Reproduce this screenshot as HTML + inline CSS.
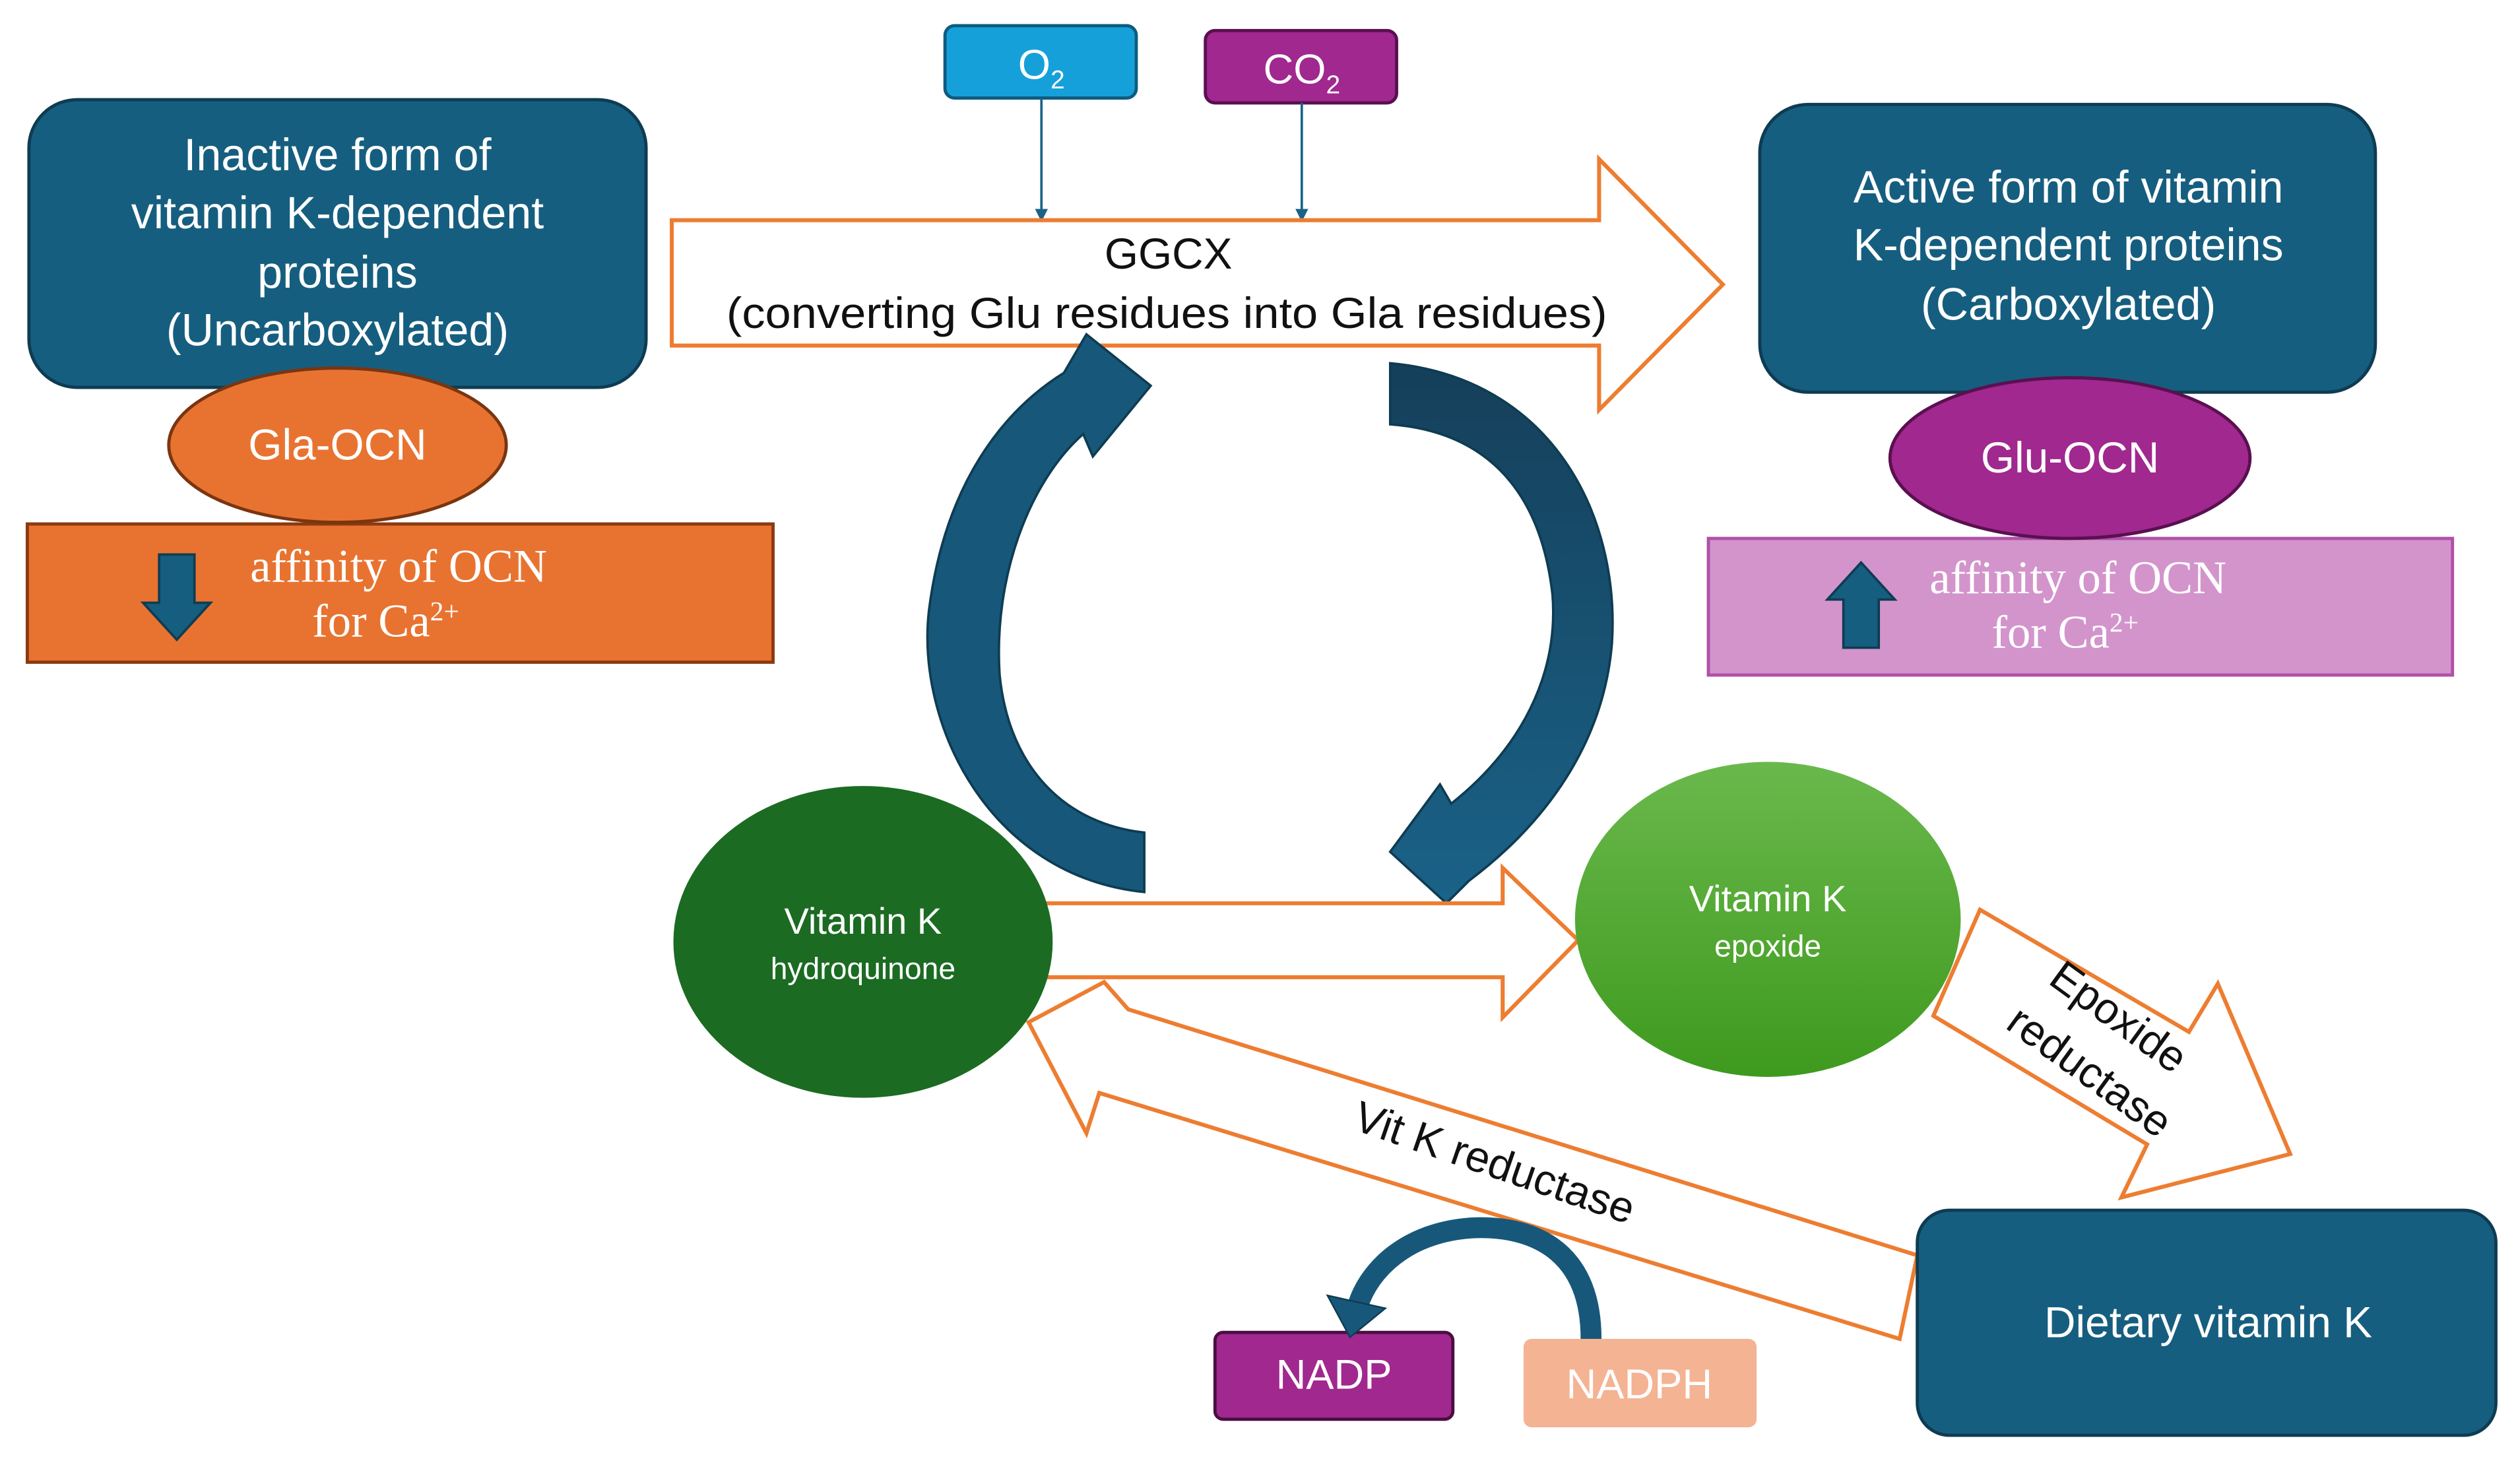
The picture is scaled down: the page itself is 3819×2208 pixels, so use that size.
<!DOCTYPE html>
<html><head><meta charset="utf-8"><style>
html,body{margin:0;padding:0;background:#fff;}
svg{display:block;}
.sans{font-family:"Liberation Sans",Arial,sans-serif;}
.w{fill:#fff;}
.s{font-family:"Liberation Serif","Times New Roman",serif;}
</style></head><body>
<svg width="3819" height="2208" viewBox="0 0 1568 906.5" preserveAspectRatio="none" xmlns="http://www.w3.org/2000/svg" font-family="Liberation Sans, Arial, sans-serif">
<defs>
<linearGradient id="ep" x1="0" y1="0" x2="0" y2="1"><stop offset="0" stop-color="#6ab84c"/><stop offset="1" stop-color="#3e9a1e"/></linearGradient>
<linearGradient id="rg" x1="0" y1="0" x2="0" y2="1"><stop offset="0" stop-color="#153f5a"/><stop offset="1" stop-color="#1a6288"/></linearGradient>
</defs>
<rect width="1568" height="906.5" fill="#fff"/>

<!-- Inactive box -->
<rect x="18" y="62" width="384" height="179" rx="30" fill="#165e7f" stroke="#0e3c52" stroke-width="2"/>
<g class="w" font-size="28" text-anchor="middle">
<text x="210" y="106">Inactive form of</text>
<text x="210" y="142">vitamin K-dependent</text>
<text x="210" y="179">proteins</text>
<text x="210" y="215">(Uncarboxylated)</text>
</g>
<!-- orange rect -->
<rect x="17" y="326" width="464" height="86" fill="#e87331" stroke="#8a3a10" stroke-width="2"/>
<ellipse cx="210" cy="277" rx="105" ry="48" fill="#e87331" stroke="#7a3510" stroke-width="2"/>
<text x="210" y="286" class="w" font-size="27" text-anchor="middle">Gla-OCN</text>
<polygon points="99,345 121,345 121,375 131,375 110,398 89,375 99,375" fill="#165e7f" stroke="#0e3c52" stroke-width="1.5"/>
<text x="248" y="362" fill="#fff" font-family="Liberation Serif, Times New Roman, serif" font-size="29" text-anchor="middle">affinity of OCN</text>
<text x="240" y="396" fill="#fff" font-family="Liberation Serif, Times New Roman, serif" font-size="29" text-anchor="middle">for Ca<tspan font-size="17" dy="-10">2+</tspan></text>

<!-- O2 / CO2 -->
<rect x="588" y="16" width="119" height="45" rx="6" fill="#16a0da" stroke="#0d5c80" stroke-width="2"/>
<text x="648" y="49" class="w" font-size="26" text-anchor="middle">O<tspan font-size="16" dy="6">2</tspan></text>
<rect x="750" y="19" width="119" height="45" rx="6" fill="#a0288f" stroke="#5a1050" stroke-width="2"/>
<text x="810" y="52" class="w" font-size="26" text-anchor="middle">CO<tspan font-size="16" dy="6">2</tspan></text>
<line x1="648" y1="61" x2="648" y2="133" stroke="#1a6288" stroke-width="1.5"/>
<polygon points="644,130 652,130 648,138" fill="#1a6288"/>
<line x1="810" y1="64" x2="810" y2="133" stroke="#1a6288" stroke-width="1.5"/>
<polygon points="806,130 814,130 810,138" fill="#1a6288"/>

<!-- GGCX arrow -->
<polygon points="418,137 995,137 995,99 1072,177 995,255 995,215 418,215" fill="#fff" stroke="#ed7d31" stroke-width="2.5"/>
<g font-size="27" text-anchor="middle" fill="#111">
<text x="727" y="167">GGCX</text>
<text x="452" y="204" text-anchor="start" textLength="548" lengthAdjust="spacingAndGlyphs">(converting Glu residues into Gla residues)</text>
</g>

<!-- Active box -->
<rect x="1095" y="65" width="383" height="179" rx="30" fill="#165e7f" stroke="#0e3c52" stroke-width="2"/>
<g class="w" font-size="28" text-anchor="middle">
<text x="1287" y="126">Active form of vitamin</text>
<text x="1287" y="162">K-dependent proteins</text>
<text x="1287" y="199">(Carboxylated)</text>
</g>
<rect x="1063" y="335" width="463" height="85" fill="#d394cc" stroke="#b050a8" stroke-width="2"/>
<ellipse cx="1288" cy="285" rx="112" ry="50" fill="#a0288f" stroke="#5a1050" stroke-width="2"/>
<text x="1288" y="294" class="w" font-size="27" text-anchor="middle">Glu-OCN</text>
<polygon points="1147,403 1169,403 1169,373 1179,373 1158,350 1137,373 1147,373" fill="#165e7f" stroke="#0e3c52" stroke-width="1.5"/>
<text x="1293" y="369" fill="#fff" font-family="Liberation Serif, Times New Roman, serif" font-size="29" text-anchor="middle">affinity of OCN</text>
<text x="1285" y="403" fill="#fff" font-family="Liberation Serif, Times New Roman, serif" font-size="29" text-anchor="middle">for Ca<tspan font-size="17" dy="-10">2+</tspan></text>

<!-- cycle arrows -->
<path d="M712,555 C615,545 570,450 578,380 C588,300 625,255 662,232 L676,208 L716,240 L680,284 L674,270 C640,300 618,360 622,420 C628,480 665,513 712,518 Z" fill="#17587a" stroke="#0e3c52" stroke-width="1.5"/>
<path d="M865,226 C965,235 1008,320 1003,400 C998,462 962,512 914,548 L900,562 L865,530 L896,488 L903,500 C946,466 970,420 966,370 C958,300 920,268 865,264 Z" fill="url(#rg)" stroke="#0e3c52" stroke-width="1.5"/>

<!-- horizontal arrow -->
<polygon points="640,562 935,562 935,540 982,585 935,633 935,608 640,608" fill="#fff" stroke="#ed7d31" stroke-width="2.5"/>

<!-- Vit K reductase arrow -->
<polygon points="640,636 687,611 702,628 1193,781 1182,833 684,680 676,705" fill="#fff" stroke="#ed7d31" stroke-width="2.5"/>
<text x="0" y="0" font-size="27" fill="#111" text-anchor="middle" transform="translate(927,732) rotate(19)">Vit K reductase</text>

<!-- Epoxide reductase arrow -->
<polygon points="1232,566 1362,642 1380,612 1425,718 1320,745 1336,712 1203,632" fill="#fff" stroke="#ed7d31" stroke-width="2.5"/>
<g font-size="27" fill="#111" text-anchor="middle">
<text transform="translate(1313,640) rotate(36)">Epoxide</text>
<text transform="translate(1295,674) rotate(36)">reductase</text>
</g>

<!-- circles -->
<ellipse cx="537" cy="586" rx="118" ry="97" fill="#1b6b23"/>
<g class="w" text-anchor="middle">
<text x="537" y="581" font-size="23">Vitamin K</text>
<text x="537" y="609" font-size="19">hydroquinone</text>
</g>
<ellipse cx="1100" cy="572" rx="120" ry="98" fill="url(#ep)"/>
<g class="w" text-anchor="middle">
<text x="1100" y="567" font-size="23">Vitamin K</text>
<text x="1100" y="595" font-size="19">epoxide</text>
</g>

<!-- Dietary -->
<rect x="1193" y="753" width="360" height="140" rx="20" fill="#165e7f" stroke="#0e3c52" stroke-width="2"/>
<text x="1374" y="832" class="w" font-size="27" text-anchor="middle">Dietary vitamin K</text>

<!-- NADP / NADPH -->
<rect x="756" y="829" width="148" height="54" rx="5" fill="#a0288f" stroke="#4a0e42" stroke-width="2"/>
<text x="830" y="864" class="w" font-size="26" text-anchor="middle">NADP</text>
<rect x="948" y="833" width="145" height="55" rx="5" fill="#f4b393"/>
<text x="1020" y="870" class="w" font-size="26" text-anchor="middle">NADPH</text>
<path d="M990,833 C990,775 950,762 915,764 C875,767 852,790 845,812" fill="none" stroke="#17587a" stroke-width="13"/>
<polygon points="826,806 862,814 840,832" fill="#17587a" stroke="#0e3c52" stroke-width="1"/>
</svg>
</body></html>
